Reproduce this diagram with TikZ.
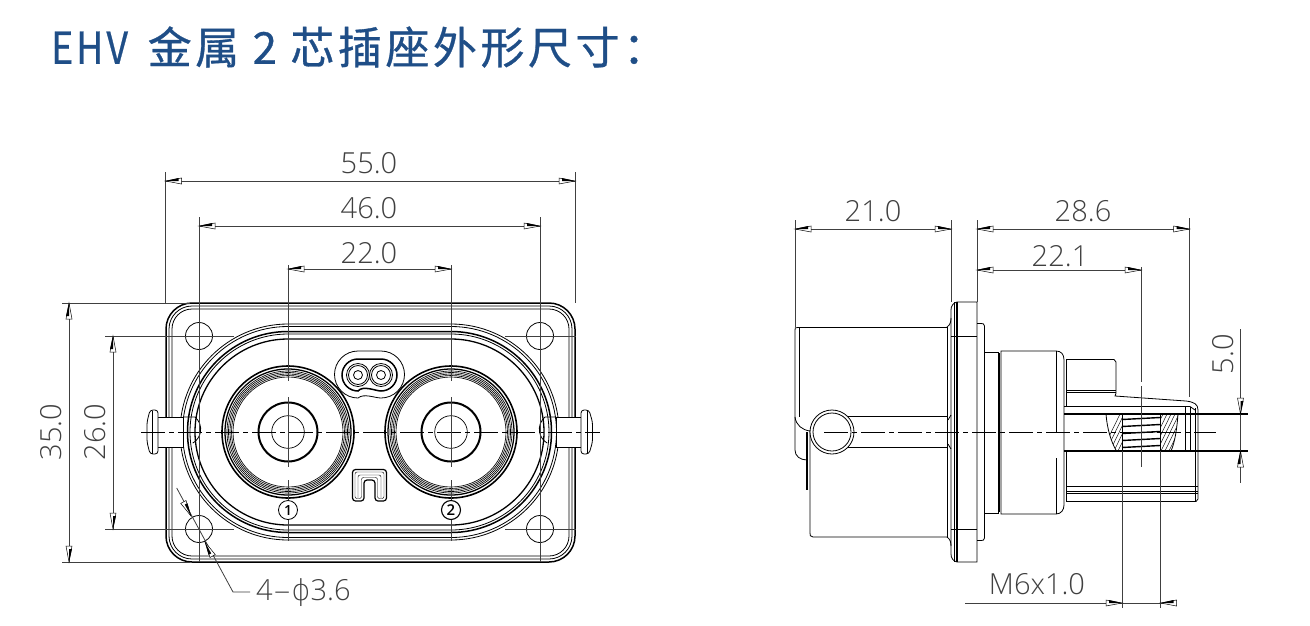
\documentclass[tikz,border=0pt]{standalone}
\usepackage{fontspec}
\newfontfamily\cjkf[LetterSpace=8,FakeBold=0.7]{Noto Sans CJK SC}
\newfontfamily\dimf{Open Sans Light}
\newfontfamily\phif{DejaVu Sans ExtraLight}
\definecolor{titleblue}{HTML}{1F4E87}
\tikzset{
  ol/.style={draw=black,line width=0.8pt},
  thk/.style={draw=black,line width=1.5pt},
  thn/.style={draw=black,line width=0.45pt},
  ext/.style={draw=black!75,line width=0.8pt},
  cen/.style={draw=black,line width=0.8pt,dash pattern=on 24pt off 4pt on 5pt off 4pt},
  dimtxt/.style={font=\dimf\fontsize{29}{29}\selectfont,text=black!75,inner sep=0pt},
  tip/.pic={\fill[white,draw=black,line width=0.5pt] (0,0)--(-16,3)--(-16,-3)--cycle;
            \fill[black] (0,0)--(-13,-3)--(-13,0)--cycle;}
}
\newcommand{\ringset}[2]{%
  \foreach \r in {61,59.5,58,56.5,55}{\draw[draw=black,line width=0.65pt] (#1,#2) circle[radius=\r];}
  \draw[line width=1.6pt] (#1,#2) circle[radius=66];
  \draw[line width=1.3pt] (#1,#2) circle[radius=63];
  \draw[line width=2pt] (#1,#2) circle[radius=29.5];
  \draw[line width=0.7pt] (#1,#2) circle[radius=16.3];
}
\newcommand{\stad}[2]{\draw[#2] (288,{432-#1}) -- (451,{432-#1}) arc[start angle=-90,end angle=90,radius=#1] -- (288,{432+#1}) arc[start angle=90,end angle=270,radius=#1] -- cycle;}
\begin{document}
\begin{tikzpicture}[x=1pt,y=-1pt]
\useasboundingbox[fill=white] (0,0) rectangle (1310,625);
% title
\node[anchor=west,inner sep=0pt,text=titleblue,font=\cjkf\fontsize{44}{44}\selectfont] (title) at (51,47)
  {\scalebox{0.85}[1]{EHV}\hspace{0.45em}金属 2 芯插座外形尺寸：};

% ---------- FRONT VIEW ----------
\draw[line width=1.5pt,rounded corners=26pt] (166,303) rectangle (575,562);
\draw[ol,rounded corners=23pt] (169,306) rectangle (572,559);
\draw[ol,rounded corners=20pt] (172,309) rectangle (569,556);
% stadium
\stad{108}{ol}
\stad{105.5}{ol}
\stad{100.5}{line width=1.5pt}
\stad{98}{ol}
\stad{93}{line width=1.3pt}
% holes
\foreach \x/\n in {199/a,540/b}{\foreach \y in {336,529}{\draw[ol,fill=none] (\x,\y) circle[radius=13.5];}}
% connector rings
\ringset{288}{432}
\ringset{451}{432}
% small oval
\draw[ol] (358,351) -- (381,351) arc[start angle=-90,end angle=90,radius=23.5] .. controls (375,398) and (364,393) .. (358,398) arc[start angle=90,end angle=270,radius=23.5] -- cycle;
\draw[line width=1.5pt] (358,359) -- (381,359) arc[start angle=-90,end angle=90,radius=16] .. controls (376,391) and (363,385) .. (358,391) arc[start angle=90,end angle=270,radius=16] -- cycle;
\foreach \x in {358,381}{\foreach \r in {11.5,9.5,4.5}{\draw[ol] (\x,375) circle[radius=\r];}}
% n mark
\draw[line width=1.2pt,rounded corners=3pt] (352.5,501)--(352.5,469.5)--(386.5,469.5)--(386.5,501)--(375,501)--(375,480)--(364,480)--(364,501)--cycle;
\draw[thn,rounded corners=2pt] (355,498.5)--(355,472)--(384,472)--(384,498.5)--(377.5,498.5)--(377.5,477.5)--(361.5,477.5)--(361.5,498.5)--cycle;
\draw[thn,rounded corners=2pt] (358,498)--(358,475)--(381,475)--(381,498);
% pins
\draw[ol,fill=white] (158,417) -- (183,417) -- (183,447) -- (158,447);
\draw[ol,fill=white,rounded corners=3pt] (158,410) -- (150,410) -- (147,422) -- (147,442) -- (150,454) -- (158,454) -- cycle;
\draw[ol] (152,410.5) -- (152,453.5);
\draw[ol] (195,417) -- (184,417) (195,417) arc[start angle=-50,end angle=60,radius=16];
\draw[ol,fill=white] (581,417) -- (556,417) -- (556,447) -- (581,447);
\draw[ol,fill=white,rounded corners=3pt] (581,410) -- (589,410) -- (592.5,422) -- (592.5,442) -- (589,454) -- (581,454) -- cycle;
\draw[ol] (587,410.5) -- (587,453.5);
\draw[ol] (545,417) -- (556,417) (545,417) arc[start angle=-130,end angle=-240,radius=16];
% centre lines
\draw[cen] (141,432) -- (600,432);
\draw[ext] (288,265) -- (288,381) (288,397) -- (288,467) (288,480) -- (288,541);
\draw[ext] (451,265) -- (451,381) (451,397) -- (451,467) (451,480) -- (451,541);
% circled numbers
\node[circle,draw=black,line width=0.8pt,minimum size=19pt,inner sep=0pt,fill=white,font=\dimf\fontsize{14}{14}\selectfont\bfseries] (one) at (288,510) {1};
\node[circle,draw=black,line width=1.1pt,minimum size=19pt,inner sep=0pt,fill=white,font=\dimf\fontsize{15}{15}\selectfont\bfseries] (two) at (451,510) {2};
% extension lines
\draw[ext] (165.5,172) -- (165.5,303);
\draw[ext] (575,172) -- (575,303);
\draw[ext] (199,217) -- (199,562);
\draw[ext] (540,217) -- (540,562);
\draw[ext] (62,303) -- (190,303);
\draw[ext] (62,562) -- (190,562);
\draw[ext] (105,336) -- (234,336);
\draw[ext] (105,529) -- (234,529);
\draw[ext] (505,336) -- (576,336);
\draw[ext] (505,529) -- (576,529);
% dimension lines
\draw[ext] (165.5,181) -- (575,181);
\pic[xscale=-1] at (165.5,181) {tip}; \pic at (575,181) {tip};
\draw[ext] (199,226) -- (540,226);
\pic[xscale=-1] at (199,226) {tip}; \pic at (540,226) {tip};
\draw[ext] (288,269) -- (451,269);
\pic[xscale=-1] at (288,269) {tip}; \pic at (451,269) {tip};
\draw[ext] (69,303) -- (69,562);
\pic[rotate=90] at (69,303) {tip}; \pic[rotate=-90] at (69,562) {tip};
\draw[ext] (113,336) -- (113,529);
\pic[rotate=90] at (113,336) {tip}; \pic[rotate=-90] at (113,529) {tip};
\node[dimtxt] (d55) at (369,163) {55.0};
\node[dimtxt] (d46) at (369,208) {46.0};
\node[dimtxt] (d22) at (369,253) {22.0};
\node[dimtxt,rotate=90] (d35) at (51,432) {35.0};
\node[dimtxt,rotate=90] (d26) at (95,432) {26.0};
% hole leader
\draw[ext] (176.7,488) -- (233,592) -- (250,592);
\pic[rotate=-61.5] at (191,516) {tip};
\pic[rotate=118.5] at (205,542) {tip};
\node[dimtxt,anchor=west] (d36) at (256,593) {4\scalebox{2}[1]{-}{\phif\fontsize{29}{29}\selectfont ϕ}3.6};

% ---------- SIDE VIEW ----------
% rear housing
\draw[ol] (795,420) -- (795,330) .. controls (795,327.5) .. (798,327.5) -- (947,327.5);
\draw[ol] (799,328) -- (799,417);
\draw[ol] (795,417) .. controls (796,425) and (802,430) .. (810,431);
\draw[ol] (795,420) -- (795,450) .. controls (795,456) and (800,460) .. (807,460);
\draw[line width=1.6pt] (807,432) -- (807,490);
\draw[ol] (810,430) -- (810,533) .. controls (810,536) .. (813,537) -- (947,537);
\draw[ol] (947.5,327) -- (947.5,537);
\draw[ol] (947,327) .. controls (950,325) and (951,322) .. (951,318);
\draw[ol] (947,537) .. controls (950,539) and (951,542) .. (951,546);
% rib
\draw[line width=1.6pt] (845,416.5) -- (948,416.5) (845,447.5) -- (948,447.5);
\draw[ol] (948,420) -- (951,415) (948,444) -- (951,449);
% flange
\draw[ol] (951,310) .. controls (951,306) and (953,303) .. (957,302) -- (977,302) -- (977,562) -- (957,562) .. controls (953,561) and (951,558) .. (951,554) -- cycle;
\draw[line width=1.8pt] (957,302) -- (957,562);
\draw[ol] (954,302) -- (954,562);
\draw[ol] (951,336) -- (977,336) (951,529) -- (977,529);
\draw[ol] (977,323.5) -- (981,323.5) .. controls (983.5,323.5) .. (984.5,326) -- (984.5,538) .. controls (983.5,540.5) .. (981,540.5) -- (977,540.5);
\draw[ol] (984.5,352) -- (998,352) -- (998,513) -- (984.5,513);
\draw[line width=1.4pt] (999.5,353) -- (999.5,512);
\draw[ol] (1001,351) -- (1056,351) .. controls (1061,351) and (1064,354) .. (1064,360) -- (1064,505) .. controls (1064,510) and (1061,514) .. (1056,514) -- (1001,514) -- cycle;
\draw[ol] (1056.5,351) -- (1056.5,432) (1056.5,458) -- (1056.5,514);
% circle
\draw[ol,fill=white] (832,432) circle[radius=22];
\draw[ol] (832,432) circle[radius=19];
% front block
\draw[ol] (1066,359.5) -- (1114,359.5) -- (1116,362) -- (1116,393) -- (1115,396) -- (1186,401) .. controls (1194,402) and (1198,404) .. (1198,410) -- (1198,499) -- (1196,501.5) -- (1066,501.5);
\draw[ol] (1066,390.5) -- (1116,390.5) (1066,392.5) -- (1116,392.5);
\draw[ol] (1066,360) -- (1066,406) (1066,451) -- (1066,501);
\draw[ol] (1195,408) -- (1195,501);
\draw[ol] (1064,406.5) -- (1186,406.5) -- (1190,406.5) -- (1195,410);
\draw[line width=1.2pt] (1064,414) -- (1248,414);
\draw[line width=1.2pt] (1064,451) -- (1248,451);
\draw[ol] (1185.5,406.5) -- (1185.5,451) (1190,406.5) -- (1190,451);
\draw[ol] (1066,486) -- (1198,486) (1066,491) -- (1198,491) (1066,493) -- (1198,493);
% threaded hole
\begin{scope}
\clip (1106,414) .. controls (1107,428) and (1111,442) .. (1116.5,451) -- (1122,451) -- (1122,414) -- cycle;
\foreach \k in {0,4,...,60}{\draw[thn] (1100+\k,455) -- (1100+\k+22,410);}
\end{scope}
\begin{scope}
\clip (1178,414) .. controls (1177,428) and (1175,442) .. (1171,451) -- (1161,451) -- (1160,414) -- cycle;
\foreach \k in {0,4,...,60}{\draw[thn] (1135+\k,455) -- (1135+\k+22,410);}
\end{scope}
\draw[ol] (1122,414) -- (1122,451) (1160,414) -- (1160,451);
\draw[ol] (1106,414) .. controls (1107,428) and (1111,442) .. (1116.5,451);
\draw[ol] (1178,414) .. controls (1177,428) and (1175,442) .. (1171,451);
\foreach \y in {419.5,426.5,433.5,440.5,447.5}{\draw[line width=1.4pt] (1122,\y) -- (1160,\y-2);}
% centre lines
\draw[cen] (824,432) -- (1216,432);
\draw[ext] (1141,267) -- (1141,382) (1141,386) -- (1141,467);
\draw[ext] (1122,451) -- (1122,608) (1160.5,451) -- (1160.5,608);
\draw[ext] (1189.5,218) -- (1189.5,397);
% side dims
\draw[ext] (795,220) -- (795,327) (951,220) -- (951,302) (977,220) -- (977,302);
\draw[ext] (795,229) -- (951,229);
\pic[xscale=-1] at (795,229) {tip}; \pic at (951,229) {tip};
\draw[ext] (977,229) -- (1189.5,229);
\pic[xscale=-1] at (977,229) {tip}; \pic at (1189.5,229) {tip};
\draw[ext] (977,270) -- (1141,270);
\pic[xscale=-1] at (977,270) {tip}; \pic at (1141,270) {tip};
\draw[ext] (965,603) -- (1176,603);
\pic at (1122,603) {tip}; \pic[xscale=-1] at (1160.5,603) {tip};
\draw[ext] (1240.5,329) -- (1240.5,483);
\pic[rotate=-90] at (1240.5,414) {tip}; \pic[rotate=90] at (1240.5,451) {tip};
\node[dimtxt] (d21) at (873,211) {21.0};
\node[dimtxt] (d286) at (1083,211) {28.6};
\node[dimtxt] (d221) at (1060,256) {22.1};
\node[dimtxt] (dm6) at (1037,584) {M6x1.0};
\node[dimtxt,rotate=90] (d5) at (1223,354) {5.0};
\end{tikzpicture}
\end{document}
